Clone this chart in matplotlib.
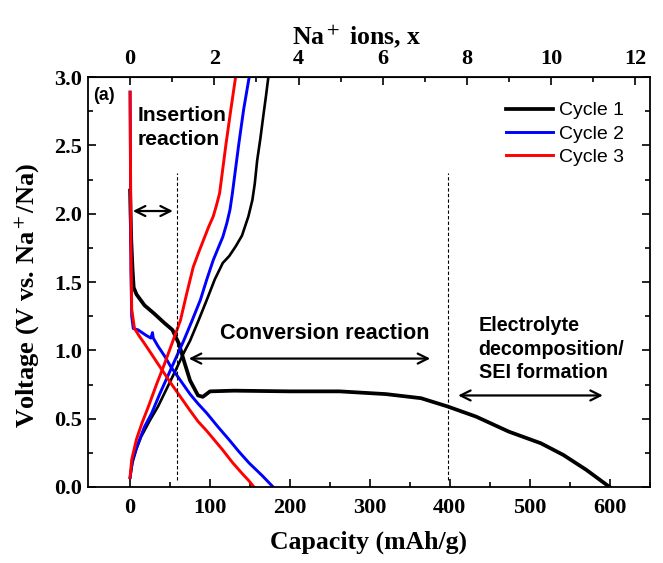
import matplotlib
matplotlib.use('Agg')
import matplotlib.pyplot as plt

# capacity (mAh/g) / voltage (V)
c1_dis_cap = [0, 0.5, 1.5, 3, 4.5, 8, 18, 30, 43, 53, 61, 67, 75, 85, 91, 100, 130, 200, 262, 320, 364, 397, 433, 474, 514, 542, 571, 600]
c1_dis_v = [2.17, 2.02, 1.8, 1.6, 1.46, 1.41, 1.33, 1.27, 1.20, 1.15, 1.05, 0.93, 0.78, 0.67, 0.66, 0.70, 0.705, 0.70, 0.70, 0.68, 0.65, 0.59, 0.515, 0.405, 0.32, 0.235, 0.125, 0.0]
c1_ch_cap = [0, 3, 8, 14, 25, 35, 45, 55, 67, 75, 85, 96, 106, 116, 124, 132, 140, 148, 153, 156, 159, 163, 167, 170, 173]
c1_ch_v = [0.07, 0.18, 0.28, 0.37, 0.49, 0.59, 0.71, 0.83, 0.98, 1.07, 1.21, 1.37, 1.52, 1.64, 1.69, 1.76, 1.84, 1.98, 2.10, 2.22, 2.39, 2.55, 2.73, 2.86, 3.0]

c2_dis_cap = [0, 0.5, 1, 2, 4, 10, 20, 26, 28, 29, 31, 35, 43, 51, 63, 75, 85, 96, 110, 124, 136, 149, 165, 179]
c2_dis_v = [2.89, 2.3, 1.6, 1.25, 1.16, 1.15, 1.11, 1.09, 1.13, 1.09, 1.07, 1.03, 0.96, 0.88, 0.78, 0.68, 0.61, 0.54, 0.44, 0.345, 0.26, 0.175, 0.085, 0.0]
c2_ch_cap = [0, 3, 10, 18, 27, 37, 47, 57, 67, 77, 88, 96, 104, 111, 116, 121, 125, 128, 132, 136, 142, 149]
c2_ch_v = [0.07, 0.20, 0.32, 0.44, 0.54, 0.68, 0.81, 0.94, 1.07, 1.21, 1.37, 1.52, 1.66, 1.76, 1.83, 1.93, 2.03, 2.15, 2.33, 2.51, 2.76, 3.0]

c3_dis_cap = [0, 0.5, 1, 2, 5.5, 12, 18, 26, 35, 43, 51, 63, 75, 85, 96, 106, 116, 128, 140, 148, 155]
c3_dis_v = [2.89, 2.4, 1.8, 1.3, 1.16, 1.10, 1.05, 0.98, 0.90, 0.83, 0.76, 0.66, 0.56, 0.48, 0.41, 0.34, 0.27, 0.18, 0.10, 0.05, 0.0]
c3_ch_cap = [0, 2, 8, 15, 23, 33, 43, 53, 63, 71, 79, 86, 92, 98, 104, 108, 112, 116, 120, 126, 132]
c3_ch_v = [0.07, 0.20, 0.35, 0.47, 0.59, 0.75, 0.90, 1.06, 1.22, 1.42, 1.61, 1.72, 1.81, 1.90, 1.98, 2.06, 2.15, 2.33, 2.51, 2.76, 3.0]

mah_per_na = 52.7  # capacity for one Na+ per formula unit

plt.rcParams['mathtext.fontset'] = 'stix'
serif = 'Liberation Serif'
sans = 'Liberation Sans'

fig = plt.figure(figsize=(6.63, 5.63), dpi=100)
ax = fig.add_axes([0.1327, 0.135, 0.847, 0.728])

ax.plot(c1_dis_cap, c1_dis_v, color='black', lw=2.7, label='Cycle 1')
ax.plot(c1_ch_cap, c1_ch_v, color='black', lw=1.9)
ax.plot(c2_dis_cap, c2_dis_v, color='blue', lw=2.1, label='Cycle 2')
ax.plot(c2_ch_cap, c2_ch_v, color='blue', lw=2.1)
ax.plot(c3_dis_cap, c3_dis_v, color='red', lw=2.1, label='Cycle 3')
ax.plot(c3_ch_cap, c3_ch_v, color='red', lw=2.1)

ax.set_xlim(-1 * mah_per_na, 12 * mah_per_na)
ax.set_ylim(0, 3.0)
ax.set_xticks(range(0, 601, 100))
ax.set_xticks(range(50, 651, 100), minor=True)
ax.set_yticks([0, 0.5, 1.0, 1.5, 2.0, 2.5, 3.0])
ax.set_yticks([0.25, 0.75, 1.25, 1.75, 2.25, 2.75], minor=True)
ax.set_yticklabels(['0.0', '0.5', '1.0', '1.5', '2.0', '2.5', '3.0'])
ax.tick_params(which='both', direction='in', right=True, top=False, width=1.2)
ax.tick_params(which='major', length=6)
ax.tick_params(which='minor', length=3.5)
ax.tick_params(axis='x', pad=8)
ax.tick_params(axis='y', pad=4)
for lab in ax.get_xticklabels() + ax.get_yticklabels():
    lab.set_fontfamily(serif)
    lab.set_fontweight('bold')
    lab.set_fontsize(16)
for s in ax.spines.values():
    s.set_linewidth(1.3)

ax.set_xlabel('Capacity (mAh/g)', fontfamily=serif, fontweight='bold', fontsize=18.5, labelpad=9)
ax.set_ylabel('Voltage (V vs. Na$^+$/Na)', fontfamily=serif, fontweight='bold', fontsize=19)
ax.yaxis.set_label_coords(-0.083, 0.468)

top = ax.secondary_xaxis('top', functions=(lambda c: c / mah_per_na, lambda n: n * mah_per_na))
top.set_xticks(range(0, 13, 2))
top.set_xticks(range(1, 12, 2), minor=True)
top.tick_params(which='both', direction='in', width=1.2, pad=6)
top.tick_params(which='major', length=6)
top.tick_params(which='minor', length=3.5)
for lab in top.get_xticklabels():
    lab.set_fontfamily(serif)
    lab.set_fontweight('bold')
    lab.set_fontsize(16)
top.set_xlabel('Na$^+$ ions, x', fontfamily=serif, fontweight='bold', fontsize=18.5, labelpad=3)
top.xaxis.label.set_x(0.478)

# annotations
ax.text(-46.7, 2.864, '(a)', fontfamily=sans, fontweight='bold', fontsize=12.8, va='center')
ax.text(9.6, 2.63, 'Insertion\nreaction', fontfamily=sans, fontweight='bold', fontsize=15.2, va='center', linespacing=1.3)
ax.annotate('', xy=(0, 2.02), xytext=(57, 2.02),
            arrowprops=dict(arrowstyle='<->', lw=1.6, color='black', mutation_scale=18))
ax.text(244, 1.12, 'Conversion reaction', fontfamily=sans, fontweight='bold', fontsize=15.6, ha='center', va='center')
ax.annotate('', xy=(70, 0.94), xytext=(379, 0.94),
            arrowprops=dict(arrowstyle='<->', lw=1.6, color='black', mutation_scale=18))
ax.text(436, 1.01, 'Electrolyte\ndecomposition/\nSEI formation', fontfamily=sans, fontweight='bold', fontsize=14.2, va='center', linespacing=1.3)
ax.annotate('', xy=(407, 0.67), xytext=(595, 0.67),
            arrowprops=dict(arrowstyle='<->', lw=1.6, color='black', mutation_scale=18))
ax.vlines([58.4, 397.7], 0.05, 2.3, colors='black', linestyles=(0, (3, 2)), lw=0.8)

ax.legend(loc='upper left', bbox_to_anchor=(0.745, 0.94), frameon=False, borderpad=0, borderaxespad=0,
          handlelength=2.4, handletextpad=0.3, labelspacing=0.3,
          prop={'family': sans, 'size': 14})

fig.savefig('out.png', dpi=100)
